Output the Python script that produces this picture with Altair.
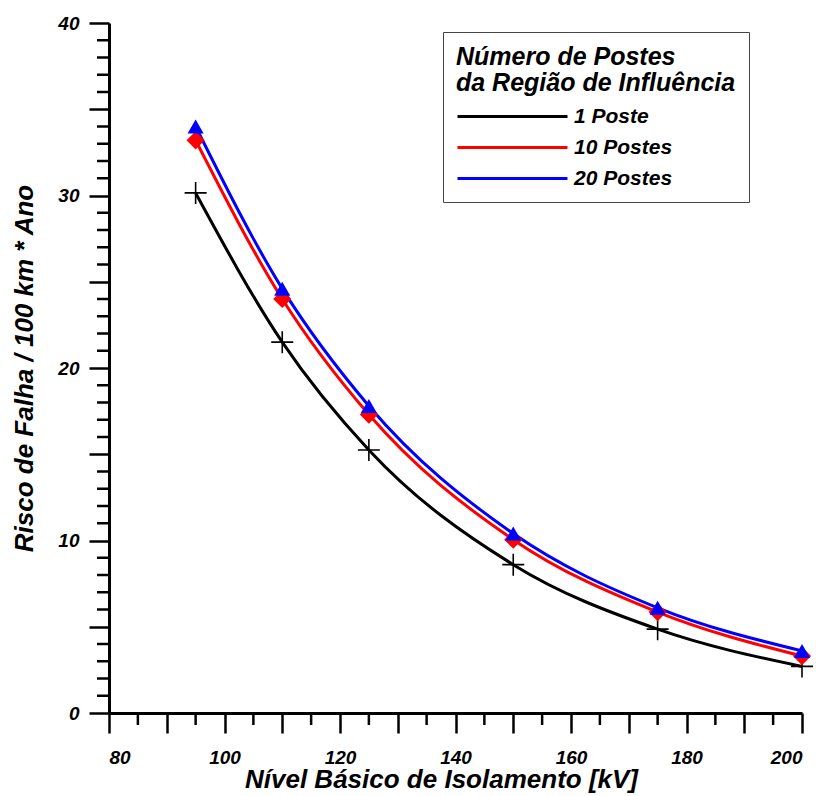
import altair as alt
import pandas as pd

x_kv = [95, 110, 125, 150, 175, 200]
poste_1 = [30.15, 21.5, 15.25, 8.6, 4.86, 2.7]
postes_10 = [33.2, 24.0, 17.3, 10.05, 5.85, 3.3]
postes_20 = [34.0, 24.6, 17.8, 10.4, 6.1, 3.6]
series_names = ["1 Poste", "10 Postes", "20 Postes"]
series_colors = ["#000000", "#ff0000", "#0000ff"]
x_major_ticks = list(range(80, 201, 10))
x_minor_ticks = list(range(85, 200, 10))
y_major_ticks = list(range(0, 41, 5))
y_minor_ticks = [v for v in range(1, 40) if v % 5 != 0]

rows = []
for name, vals in zip(series_names, [poste_1, postes_10, postes_20]):
    for xv, yv in zip(x_kv, vals):
        rows.append({"x": xv, "y": yv, "serie": name})
df = pd.DataFrame(rows)
df_xminor = pd.DataFrame({"x": x_minor_ticks})
df_yminor = pd.DataFrame({"y": y_minor_ticks})

FONT = "Liberation Sans"
PLOT_W, PLOT_H = 693, 690
MINOR_LEN = 12
x_scale = alt.Scale(domain=[80, 200], nice=False, zero=False)
y_scale = alt.Scale(domain=[0, 40], nice=False)

x_major = alt.X(
    "x:Q",
    scale=x_scale,
    axis=alt.Axis(
        orient="bottom",
        title="Nível Básico de Isolamento [kV]",
        values=x_major_ticks,
        format="d",
        labelExpr="datum.value % 20 === 0 ? datum.label : ''",
        labelOverlap=False,
        tickSize=20,
        labelPadding=15,
        titleX=332,
        titleY=74,
        titleBaseline="alphabetic",
        titleAlign="center",
    ),
)
y_major = alt.Y(
    "y:Q",
    scale=y_scale,
    axis=alt.Axis(
        orient="left",
        title="Risco de Falha / 100 km * Ano",
        values=y_major_ticks,
        format="d",
        labelExpr="datum.value % 10 === 0 ? datum.label : ''",
        labelOverlap=False,
        tickSize=20,
        labelPadding=10,
        titlePadding=20,
    ),
)

color_scale = alt.Scale(domain=series_names, range=series_colors)

# minor ticks: tick marks positioned through the shared scales, pointing outward
x_minor = alt.Chart(df_xminor).mark_tick(
    color="black", orient="vertical", size=MINOR_LEN, thickness=2.5, opacity=1, clip=False
).encode(
    x=alt.X("x:Q", scale=x_scale),
    y=alt.value(PLOT_H + MINOR_LEN / 2),
)
y_minor = alt.Chart(df_yminor).mark_tick(
    color="black", orient="horizontal", size=MINOR_LEN, thickness=2.5, opacity=1, clip=False
).encode(
    y=alt.Y("y:Q", scale=y_scale),
    x=alt.value(-MINOR_LEN / 2),
)

lines = alt.Chart(df).mark_line(interpolate="monotone", strokeWidth=3).encode(
    x=x_major,
    y=y_major,
    color=alt.Color(
        "serie:N",
        scale=color_scale,
        legend=alt.Legend(
            title=["Número de Postes", "da Região de Influência"],
            orient="none",
            legendX=334,
            legendY=9,
            symbolType="M-1,0L9,0",
            symbolSize=484,
            symbolStrokeWidth=3,
            labelOffset=93,
            rowPadding=8,
            padding=13,
            strokeColor="#444444",
            titleFontSize=25,
            titleLineHeight=26,
            titlePadding=8,
            titleLimit=500,
            labelLimit=300,
            labelFontSize=21,
            titleFont=FONT,
            labelFont=FONT,
            titleFontWeight="bold",
            labelFontWeight="bold",
            titleFontStyle="italic",
            labelFontStyle="italic",
            titleColor="black",
            labelColor="black",
        ),
    ),
    order=alt.Order("x:Q"),
)

base_pts = alt.Chart(df).encode(
    x="x:Q",
    y="y:Q",
    color=alt.Color("serie:N", scale=color_scale, legend=None),
)
cross = base_pts.transform_filter(alt.datum.serie == "1 Poste").mark_point(
    shape="M-1,0L1,0M0,-1L0,1", filled=False, size=484, strokeWidth=1.6, opacity=1
)
diamond = base_pts.transform_filter(alt.datum.serie == "10 Postes").mark_point(
    shape="diamond", filled=True, size=330, opacity=1
)
triangle = base_pts.transform_filter(alt.datum.serie == "20 Postes").mark_point(
    shape="triangle-up", filled=True, size=260, opacity=1
)

chart = alt.layer(x_minor, y_minor, lines, cross, diamond, triangle).properties(
    width=PLOT_W,
    height=PLOT_H,
    autosize=alt.AutoSizeParams(type="none"),
    padding={"left": 101, "top": 15, "right": 11, "bottom": 81},
).configure_view(stroke=None).configure_axis(
    grid=False,
    domainColor="black",
    domainWidth=3,
    tickColor="black",
    tickWidth=2.5,
    labelFont=FONT,
    labelFontSize=19,
    labelFontWeight="bold",
    labelFontStyle="italic",
    labelColor="black",
    titleFont=FONT,
    titleFontSize=26,
    titleFontWeight="bold",
    titleFontStyle="italic",
    titleColor="black",
)

chart.save("out.html", embed_options={"renderer": "svg", "actions": False})
